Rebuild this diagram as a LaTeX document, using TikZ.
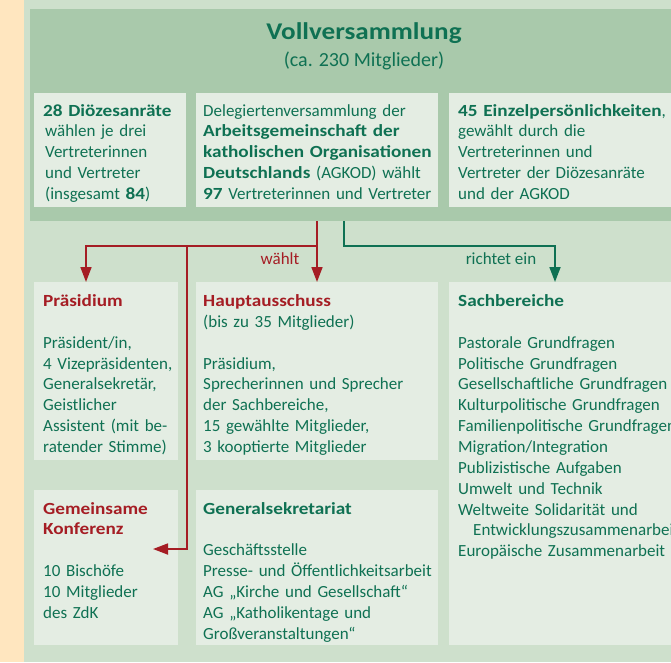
\documentclass[tikz,border=0pt]{standalone}
\usepackage{fontspec}
\setmainfont{Carlito}[BoldFeatures={FakeStretch=1.13}]
\usetikzlibrary{arrows.meta}
\definecolor{cream}{HTML}{FFE6BF}
\definecolor{bglight}{HTML}{CEE0CC}
\definecolor{bgdark}{HTML}{A9C9AB}
\definecolor{boxfill}{HTML}{E4EDE3}
\definecolor{zdkgreen}{HTML}{0F7153}
\definecolor{zdkred}{HTML}{A51D24}
\newcommand{\rt}[1]{\textcolor{zdkred}{\textbf{#1}}}
\newcommand{\gap}{\\[20.85pt]}
\begin{document}
\begin{tikzpicture}[x=1pt,y=-1pt,
  panel/.style={draw=none, fill=boxfill, inner sep=0pt, outer sep=0pt, anchor=north west},
  body/.style={text=zdkgreen, font=\fontsize{17}{20.85}\selectfont, inner sep=0pt, anchor=base west, align=left, text width=#1},
  lbl/.style={font=\fontsize{17}{20.85}\selectfont, inner sep=0pt, anchor=base},
  redarr/.style={draw=zdkred, line width=1.7pt, -{Triangle[length=15pt,width=11pt]}},
  redln/.style={draw=zdkred, line width=1.7pt},
  grarr/.style={draw=zdkgreen, line width=1.7pt, -{Triangle[length=15pt,width=11pt]}}
]
\useasboundingbox (0,0) rectangle (671,662);
\fill[bglight] (0,0) rectangle (671,662);
\fill[cream] (0,0) rectangle (24,662);

% top panel
\node[panel, fill=bgdark, minimum width=641pt, minimum height=212pt] (vv) at (30,9) {};
\node[text=zdkgreen, font=\fontsize{24}{28}\selectfont\bfseries, inner sep=0pt, anchor=base] (title) at (364,39) {Vollversammlung};
\node[text=zdkgreen, font=\fontsize{20}{24}\selectfont, inner sep=0pt, anchor=base] (subtitle) at (364,66) {(ca. 230 Mitglieder)};

\node[panel, minimum width=152pt, minimum height=114pt] (b1) at (34,93) {};
\node[panel, minimum width=242pt, minimum height=114pt] (b2) at (196,93) {};
\node[panel, minimum width=222pt, minimum height=114pt] (b3) at (449,93) {};

\node[body=140pt] (t1) at (43,116) {\textbf{28 Diözesanräte}\\
\hspace*{2pt}wählen je drei\\
\hspace*{2pt}Vertreterinnen\\
\hspace*{2pt}und Vertreter\\
\hspace*{2pt}(insgesamt \textbf{84})};
\node[body=240pt] (t2) at (203,116) {Delegiertenversammlung der\\
\textbf{Arbeitsgemeinschaft der}\\
\textbf{katholischen Organisationen}\\
\textbf{Deutschlands} (AGKOD) wählt\\
\textbf{97} Vertreterinnen und Vertreter};
\node[body=240pt] (t3) at (458,116) {\textbf{45 Einzelpersönlichkeiten},\\
gewählt durch die\\
Vertreterinnen und\\
Vertreter der Diözesanräte\\
und der AGKOD};

% second row
\node[panel, minimum width=144pt, minimum height=178pt] (praes) at (34,282) {};
\node[panel, minimum width=242pt, minimum height=178pt] (haupt) at (196,282) {};
\node[panel, minimum width=222pt, minimum height=363pt] (sach) at (449,282) {};

\node[body=140pt] (tp) at (43,306.5) {\rt{Präsidium}\gap
Präsident/in,\\
4 Vizepräsidenten,\\
Generalsekretär,\\
Geistlicher\\
Assistent (mit be-\\
ratender Stimme)};
\node[body=240pt] (th) at (203,306.5) {\rt{Hauptausschuss}\\
(bis zu 35 Mitglieder)\gap
Präsidium,\\
Sprecherinnen und Sprecher\\
der Sachbereiche,\\
15 gewählte Mitglieder,\\
3 kooptierte Mitglieder};
\node[body=260pt] (ts) at (458,306.5) {\textbf{Sachbereiche}\gap
Pastorale Grundfragen\\
Politische Grundfragen\\
Gesellschaftliche Grundfragen\\
Kulturpolitische Grundfragen\\
Familienpolitische Grundfragen\\
Migration/Integration\\
Publizistische Aufgaben\\
Umwelt und Technik\\
Weltweite Solidarität und\\
\hspace*{15pt}Entwicklungszusammenarbeit\\
Europäische Zusammenarbeit};

% third row
\node[panel, minimum width=144pt, minimum height=155pt] (gk) at (34,490) {};
\node[panel, minimum width=242pt, minimum height=155pt] (gs) at (196,490) {};

\node[body=140pt] (tg) at (43,514) {\rt{Gemeinsame}\\
\rt{Konferenz}\gap
10 Bischöfe\\
10 Mitglieder\\
des ZdK};
\node[body=240pt] (tgs) at (203,514) {\textbf{Generalsekretariat}\gap
Geschäftsstelle\\
Presse- und Öffentlichkeitsarbeit\\
AG „Kirche und Gesellschaft“\\
AG „Katholikentage und\\
Großveranstaltungen“};

% connectors
\coordinate (redsplit) at (317,246);
\coordinate (redleft) at (86,246);
\coordinate (konfx) at (187,246);
\coordinate (konfturn) at (187,549);
\coordinate (konftip) at (153,549);
\coordinate (grsplit) at (344,246);
\coordinate (grin) at (555,282);

\draw[redarr] (haupt.north |- vv.south) -- (haupt.north);
\draw[redarr] (haupt.north |- redsplit) -- (redleft) -- (redleft |- praes.north);
\draw[redarr] (konfx) -- (konfturn) -- (konftip);
\draw[grarr] (grsplit |- vv.south) -- (grsplit) -| (grin);

\node[lbl, text=zdkred] (lw) at (280,264) {wählt};
\node[lbl, text=zdkgreen] (lr) at (501,264) {richtet ein};
\end{tikzpicture}
\end{document}
